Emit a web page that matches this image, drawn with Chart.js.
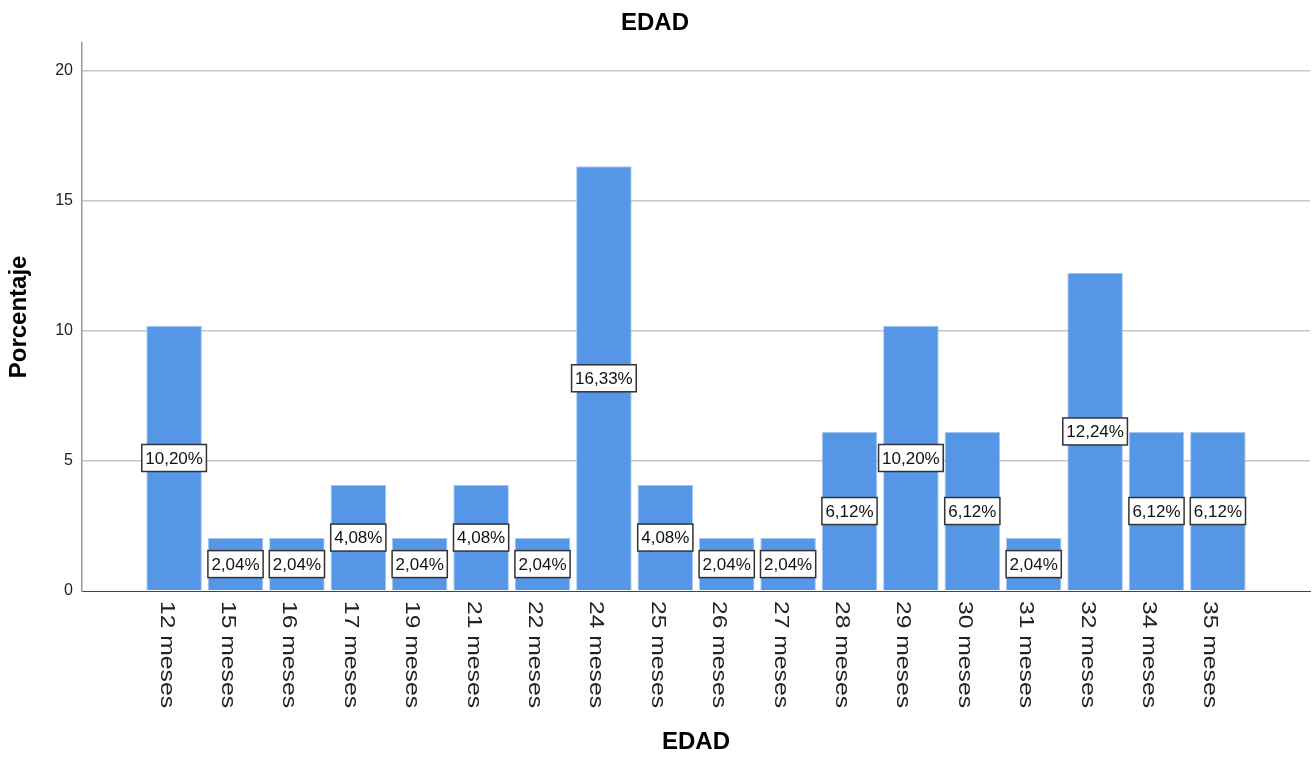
<!DOCTYPE html>
<html>
<head>
<meta charset="utf-8">
<script src="https://cdn.jsdelivr.net/npm/chart.js@4.4.1/dist/chart.umd.min.js"></script>
<style>
  html, body { margin: 0; padding: 0; background: #fff; }
  #wrap { width: 1314px; height: 757px; }
</style>
</head>
<body>
<div id="wrap"><canvas id="chart" width="1314" height="757"></canvas></div>
<script>
// EDAD -- percentage per age (months)
const categories = ["12 meses", "15 meses", "16 meses", "17 meses", "19 meses", "21 meses", "22 meses", "24 meses", "25 meses",
  "26 meses", "27 meses", "28 meses", "29 meses", "30 meses", "31 meses", "32 meses", "34 meses", "35 meses"];
const percentages = [10.20, 2.04, 2.04, 4.08, 2.04, 4.08, 2.04, 16.33, 4.08, 2.04, 2.04, 6.12, 10.20, 6.12, 2.04, 12.24, 6.12, 6.12];
const yTicks = [0, 5, 10, 15, 20];

const FONT = "'Liberation Sans', Arial, sans-serif";

function pct(v) { return v.toFixed(2).replace(".", ",") + "%"; }

// white boxed value labels in the middle of every bar
const barLabels = {
  id: "barLabels",
  afterDatasetsDraw(chart) {
    const ctx = chart.ctx;
    const meta = chart.getDatasetMeta(0);
    ctx.save();
    ctx.font = "17px " + FONT;
    ctx.textAlign = "center";
    ctx.textBaseline = "middle";
    meta.data.forEach((bar, i) => {
      const txt = pct(percentages[i]);
      const w = ctx.measureText(txt).width + 7, h = 27;
      const cx = bar.x, cy = (bar.y + bar.base) / 2;
      ctx.fillStyle = "#fff";
      ctx.fillRect(cx - w / 2, cy - h / 2, w, h);
      ctx.strokeStyle = "#333";
      ctx.lineWidth = 1.5;
      ctx.strokeRect(cx - w / 2, cy - h / 2, w, h);
      ctx.fillStyle = "#111";
      ctx.fillText(txt, cx, cy + 1);
    });
    ctx.restore();
  }
};

// category names rotated clockwise (reading downwards), like SPSS
const xLabels = {
  id: "xLabels",
  afterDraw(chart) {
    const ctx = chart.ctx;
    const xs = chart.scales.x;
    const top = chart.chartArea.bottom + 10;
    ctx.save();
    ctx.font = "21px " + FONT;
    ctx.fillStyle = "#222";
    ctx.textAlign = "left";
    ctx.textBaseline = "alphabetic";
    categories.forEach((c, i) => {
      const px = xs.getPixelForValue(i);
      ctx.save();
      ctx.translate(px - 13.5, top);
      ctx.rotate(Math.PI / 2);
      ctx.scale(1.175, 1);
      ctx.fillText(c, 0, 0);
      ctx.restore();
    });
    ctx.restore();
  }
};

new Chart(document.getElementById("chart"), {
  type: "bar",
  data: {
    datasets: [{
      label: "Porcentaje",
      data: categories.map((c, i) => ({ x: i, y: percentages[i] })),
      backgroundColor: "#5596e6",
      borderColor: "#a6c8f2",
      borderWidth: 1,
      categoryPercentage: 1,
      barPercentage: 0.905
    }]
  },
  options: {
    responsive: false,
    devicePixelRatio: 1,
    animation: false,
    layout: { padding: { left: 0, right: 4, top: 0, bottom: 0 } },
    plugins: {
      legend: { display: false },
      tooltip: { enabled: false },
      title: {
        display: true,
        text: "EDAD",
        color: "#000",
        font: { family: FONT, size: 24, weight: "bold" },
        padding: { top: 9, bottom: 5 }
      }
    },
    scales: {
      x: {
        type: "linear",
        offset: false,
        min: -1.5,
        max: categories.length + 0.5,
        grid: { display: false },
        border: { color: "#444", width: 1 },
        ticks: { display: false },
        afterBuildTicks: s => { s.ticks = categories.map((c, i) => ({ value: i })); },
        afterFit: s => { s.height = 166; },
        title: {
          display: true,
          text: "EDAD",
          color: "#000",
          font: { family: FONT, size: 24, weight: "bold" },
          padding: { top: 0, bottom: 0 }
        }
      },
      y: {
        min: 0,
        max: 21.08,
        grid: {
          color: c => (c.tick && c.tick.value === 0 ? "rgba(0,0,0,0)" : "#c6c6c6"),
          lineWidth: 1.5,
          drawTicks: false
        },
        border: { color: "#999", width: 1.5 },
        ticks: {
          color: "#222",
          padding: 9,
          font: { family: FONT, size: 16 }
        },
        afterBuildTicks: s => { s.ticks = yTicks.map(v => ({ value: v })); },
        afterFit: s => { s.width = 82; },
        title: {
          display: true,
          text: "Porcentaje",
          color: "#000",
          font: { family: FONT, size: 24, weight: "bold" },
          padding: { top: 5, bottom: 0 }
        }
      }
    }
  },
  plugins: [barLabels, xLabels]
});
</script>
</body>
</html>
